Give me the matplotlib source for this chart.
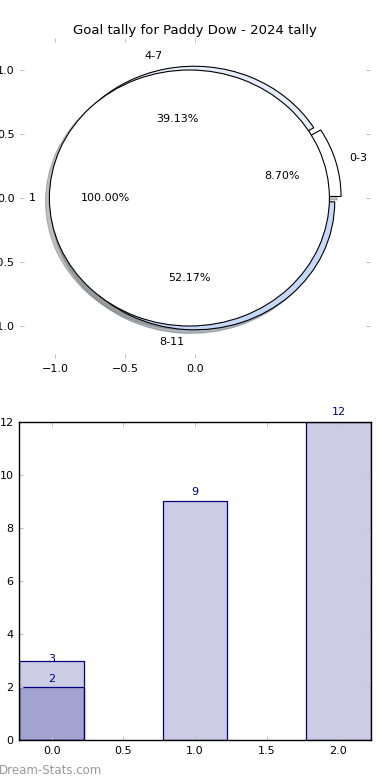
import matplotlib
matplotlib.use('Agg')
import matplotlib.pyplot as plt

title = 'Goal tally for Paddy Dow - 2024 tally'

# inner pie
inner_labels = ['1']
inner_values = [1]

# outer ring
outer_labels = ['0-3', '4-7', '8-11']
outer_values = [2, 9, 12]
outer_colors = ['#ffffff', '#e6eefc', '#c6d8f8']

# bar chart
bar_x = [0, 1, 2]
bar_values = [3, 9, 12]
bar2_x = [0]
bar2_values = [2]

tick_grey = '#c0c0c0'

fig = plt.figure(figsize=(3.9, 7.8), dpi=100)

# ---- pie ----
ax = fig.add_axes([20 / 390, 1 - 358 / 780, 350 / 390, 320 / 780])
ax.pie(outer_values, labels=outer_labels, colors=outer_colors, autopct='%1.2f%%',
       explode=[0.045, 0.03, 0.03], shadow=dict(shade=0.5),
       wedgeprops=dict(edgecolor='black', linewidth=0.8),
       textprops=dict(fontsize=8))
ax.pie(inner_values, labels=inner_labels, colors=['white'], autopct='%1.2f%%',
       explode=[0.04], shadow=dict(shade=0.5),
       wedgeprops=dict(edgecolor='black', linewidth=0.8),
       textprops=dict(fontsize=8))
ax.set_aspect('auto')
ax.set_frame_on(True)
for s in ax.spines.values():
    s.set_visible(False)
ax.set_xlim(-1.25, 1.25)
ax.set_ylim(-1.25, 1.25)
ax.set_xticks([-1.0, -0.5, 0.0])
ax.set_yticks([-1.0, -0.5, 0.0, 0.5, 1.0])
ax.set_xticklabels(['\u22121.0', '\u22120.5', '0.0'])
ax.set_yticklabels(['\u22121.0', '\u22120.5', '0.0', '0.5', '1.0'])
ax.tick_params(direction='in', length=3, color=tick_grey, labelsize=8,
               top=True, right=True, pad=4)
ax.set_title(title, fontsize=9.5, pad=3)

# ---- bars ----
ax2 = fig.add_axes([19.3 / 390, 1 - 740.3 / 780, 351.4 / 390, 318.6 / 780])
ax2.bar(bar_x, bar_values, width=0.45, color=(0, 0, 0.5, 0.2), edgecolor='navy', linewidth=0.9)
ax2.bar(bar2_x, bar2_values, width=0.45, color=(0, 0, 0.5, 0.2), edgecolor='navy', linewidth=0.9)

for x, h in zip(bar_x, bar_values):
    off = 0.35
    for x2, h2 in zip(bar2_x, bar2_values):
        if x2 == x and abs(h - h2) < 1.5:
            off = 0.06
    ax2.text(x, h + off, str(h), ha='center', va='center', color='navy', fontsize=8)
for x, h in zip(bar2_x, bar2_values):
    ax2.text(x, h + 0.31, str(h), ha='center', va='center', color='navy', fontsize=8)

ax2.set_xlim(-0.225, 2.225)
ax2.set_ylim(0, 12)
ax2.set_xticks([0, 0.5, 1.0, 1.5, 2.0])
ax2.set_yticks(range(0, 13, 2))
ax2.tick_params(direction='in', length=3, color=tick_grey, labelsize=8,
                top=True, right=True, pad=4)
for s in ax2.spines.values():
    s.set_linewidth(1.0)

fig.text(-0.003, 0.0125, 'Dream-Stats.com', color='#999999', fontsize=8.5,
         ha='left', va='center')

fig.savefig('out.png', dpi=100)
